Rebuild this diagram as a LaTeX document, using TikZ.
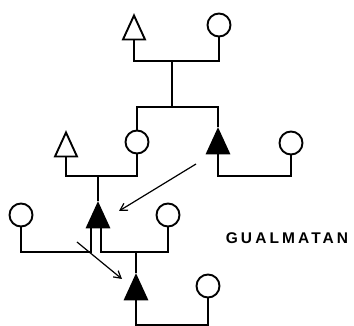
\documentclass[tikz,border=0pt]{standalone}
\usepackage{fontspec}
\newfontfamily\lblfont[LetterSpace=20]{Liberation Sans}
\usetikzlibrary{shapes.geometric,arrows.meta}
\begin{document}
\begin{tikzpicture}[x=1pt,y=-1pt,
  male/.style={draw, isosceles triangle, isosceles triangle stretches, shape border rotate=90,
    minimum width=22pt, minimum height=24pt, inner sep=0pt, line width=1.9pt, anchor=apex},
  fmale/.style={male, fill=black},
  female/.style={draw, circle, minimum size=23pt, inner sep=0pt, line width=1.9pt},
  kin/.style={line width=1.9pt},
  arr/.style={line width=1.2pt, -{Straight Barb[length=7pt,width=8pt]}}]
\useasboundingbox (0,0) rectangle (354,326);
% generation 1
\node[male] (T1) at (134,13) {};
\node[female] (C1) at (219,25) {};
\coordinate (m1) at (172,61);
\coordinate (s1) at (172,107);
\draw[kin] (T1.lower side) |- (m1) -| (C1.south);
\draw[kin] (m1) -- (s1);
% generation 2
\node[male] (T3) at (66,130) {};
\node[female] (C2) at (137,142) {};
\node[fmale] (FT2) at (218,127) {};
\node[female] (C3) at (291,143) {};
\draw[kin] (C2.north) |- (s1) -| (FT2.apex);
\coordinate (m2) at (98,176);
\coordinate (m3) at (254,176);
\draw[kin] (T3.lower side) |- (m2) -| (C2.south);
\draw[kin] (FT2.lower side) |- (m3) -| (C3.south);
% generation 3
\node[fmale] (FT4) at (98,201) {};
\node[female] (C5) at (21,215) {};
\node[female] (C6) at (168,215) {};
\draw[kin] (m2) -- (FT4.apex);
\coordinate (b4l) at (91,226);
\coordinate (b4r) at (101,226);
\coordinate (m4) at (56,252);
\coordinate (m5) at (136,252);
\draw[kin] (b4l) |- (m4) -| (C5.south);
\draw[kin] (b4r) |- (m5) -| (C6.south);
% generation 4
\node[fmale] (FT7) at (136,273) {};
\node[female] (C8) at (208,286) {};
\coordinate (m6) at (172,325);
\draw[kin] (m5) -- (FT7.apex);
\draw[kin] (FT7.lower side) |- (m6) -| (C8.south);
% arrows
\coordinate (a1s) at (196,164);
\coordinate (a1e) at (119,211);
\coordinate (a2s) at (77,242);
\coordinate (a2e) at (122,279);
\draw[arr] (a1s) -- (a1e);
\draw[arr] (a2s) -- (a2e);
% label
\node[inner sep=0pt] (lbl) at (287,238) {\lblfont\bfseries\fontsize{15.5}{17}\selectfont GUALMATAN};
\end{tikzpicture}
\end{document}
